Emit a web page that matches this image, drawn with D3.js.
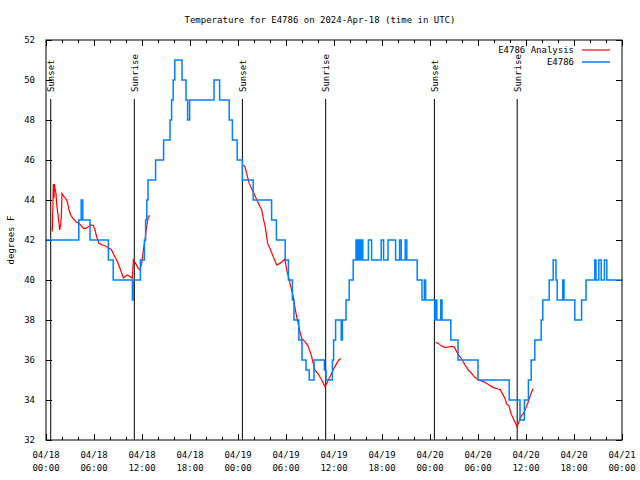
<!DOCTYPE html>
<html><head><meta charset="utf-8">
<script src="https://cdn.jsdelivr.net/npm/d3@7"></script>
<style>
body{margin:0;background:#fff}
text{font-family:"DejaVu Sans Mono",monospace;font-size:9px;fill:#000}
</style>
</head><body>
<svg id="chart" width="640" height="480"></svg>
<script>
// ---- data ----
const startUTC = Date.UTC(2024, 3, 18, 0, 0);
const titleText = "Temperature for E4786 on 2024-Apr-18 (time in UTC)";
const yLabel = "degrees F";
const seriesNames = ["E4786 Analysis", "E4786"];
const xMajorHours = [0, 6, 12, 18, 24, 30, 36, 42, 48, 54, 60, 66, 72];
const xMinorHours = d3.range(0, 73, 2);
const yTicks = [32, 34, 36, 38, 40, 42, 44, 46, 48, 50, 52];
const sunLabels = ["Sunset", "Sunrise", "Sunset", "Sunrise", "Sunset", "Sunrise"];
const sunHours = [0.59, 11.04, 24.55, 34.96, 48.55, 58.9];

// station observations (step values, hours since 04/18 00:00 UTC)
const stationHours = [0,4.1,4.4,4.6,5.5,7.8,8.4,10.8,10.9,11.8,12.3,12.45,12.6,12.75,13.7,14.7,15.5,15.7,15.9,16.1,17.0,17.5,17.7,17.95,21.0,21.7,22.9,23.3,23.9,24.55,25.9,28.2,28.8,29.9,30.3,30.8,31.0,31.6,32.0,32.5,32.9,33.5,34.8,35.0,35.8,35.95,36.2,36.9,37.05,37.5,37.9,38.4,38.75,38.92,39.08,39.25,39.4,39.6,40.3,40.7,41.9,42.2,42.75,43.7,44.2,44.4,44.9,45.1,46.4,47.0,47.3,47.45,48.6,48.75,48.85,49.35,49.5,50.6,51.5,54.0,57.9,59.25,59.8,60.3,60.65,61.1,61.9,62.1,62.9,63.4,63.75,63.9,64.6,64.75,66.1,66.95,67.5,68.6,68.75,69.1,69.4,69.8,70.1,72];
const stationTemps = [42,43,44,43,42,41,40,39,40,41,42,43,44,45,46,47,48,49,50,51,50,49,48,49,50,49,48,47,46,45,44,43,42,41,40,39,38,37,36,35.5,35,36,35.5,35,36,37,38,37,38,39,40,41,42,41,42,41,42,41,42,41,42,41,42,41,42,41,42,41,40,39,40,39,38,39,38,39,38,37,36,35,34,33,34,35,36,37,38,39,40,41,40,39,40,39,38,39,40,41,40,41,40,41,40,40];

// analysis (null = gap)
const analysisHours = [0.79,0.92,1.0,1.06,1.125,1.25,1.33,1.42,1.54,1.625,1.71,1.83,1.92,2.0,2.25,2.46,2.67,2.875,3.08,3.375,3.71,4.125,4.33,4.67,4.96,5.375,5.58,5.92,6.125,6.33,6.625,7.04,7.46,7.875,8.17,8.5,8.92,9.33,9.67,9.875,10.17,10.5,10.79,10.92,11.2,11.54,11.75,11.96,12.17,12.375,12.58,12.79,13.0,
  null,
  24.58,24.875,25.08,25.4,25.7,26.0,26.33,26.75,26.96,27.2,27.4,27.7,28.0,28.4,28.83,29.25,29.875,30.08,30.3,30.5,30.9,31.1,31.33,31.75,31.96,32.375,32.8,33.2,33.6,34.04,34.46,34.875,35.3,35.7,36.1,36.6,36.875,
  null,
  48.75,49.04,49.375,49.875,50.3,50.7,51.04,51.33,51.625,51.96,52.375,52.8,53.2,53.625,54.125,54.67,55.3,55.9,56.5,56.75,57.04,57.375,57.58,57.875,58.125,58.4,58.7,58.875,59.125,59.375,59.67,59.96,60.3,60.625,60.9];
const analysisTemps = [42.42,44.8,44.1,44.8,44.58,44.33,43.83,43.5,43.17,42.83,42.5,42.75,43.17,44.33,44.17,44.08,43.92,43.5,43.25,43.08,42.92,42.83,42.75,42.58,42.58,42.67,42.75,42.72,42.5,42.17,41.83,41.75,41.7,41.58,41.53,41.25,40.92,40.5,40.1,40.17,40.25,40.17,40.08,41.0,40.83,40.58,40.5,40.83,41.5,42.0,42.67,43.17,43.22,
  null,
  45.75,45.67,45.33,44.83,44.58,44.33,44.03,43.67,43.53,43.0,42.67,41.83,41.58,41.17,40.75,40.83,41.05,40.5,40.17,39.83,39.17,38.67,38.17,37.42,37.08,36.92,36.67,36.17,35.5,35.3,35.0,34.67,35.0,35.33,35.67,36.0,36.08,
  null,
  36.88,36.83,36.72,36.62,36.65,36.68,36.65,36.42,36.22,36.05,35.75,35.5,35.33,35.12,35.0,34.92,34.78,34.62,34.55,34.53,34.33,34.08,33.8,33.7,33.33,33.08,32.83,32.67,32.92,33.17,33.33,33.58,33.92,34.33,34.58];

const colors = ["#ff0000", "#0080ff"];

// ---- drawing ----
const toDate = h => new Date(startUTC + h * 3600e3);
const L = 46, R = 622, T = 40, B = 440;
const svg = d3.select("#chart");
const x = d3.scaleUtc().domain([toDate(0), toDate(72)]).range([L, R]);
const y = d3.scaleLinear().domain([32, 52]).range([B, T]);

svg.append("rect").attr("width", 640).attr("height", 480).attr("fill", "#fff");

// title
svg.append("text").attr("x", 320).attr("y", 23).attr("text-anchor", "middle").text(titleText);
// y label
svg.append("text").attr("transform", "translate(14,240) rotate(-90)").attr("text-anchor", "middle").text(yLabel);

// y axis (left with labels, right mirrored)
const yLeft = d3.axisLeft(y).tickValues(yTicks).tickSize(-6).tickPadding(11).tickFormat(d3.format("d"));
const gy = svg.append("g").attr("transform", `translate(${L},0)`).call(yLeft);
const gyR = svg.append("g").attr("transform", `translate(${R},0)`).call(d3.axisRight(y).tickValues(yTicks).tickSize(-6).tickFormat(""));

// x axis
const majorDates = xMajorHours.map(toDate);
const minorDates = xMinorHours.filter(h => h % 6 !== 0).map(toDate);
const gx = svg.append("g").attr("transform", `translate(0,${B})`)
  .call(d3.axisBottom(x).tickValues(majorDates).tickSize(-6).tickFormat(""));
svg.append("g").attr("transform", `translate(0,${B})`)
  .call(d3.axisBottom(x).tickValues(minorDates).tickSize(-3).tickFormat(""));
svg.append("g").attr("transform", `translate(0,${T})`)
  .call(d3.axisTop(x).tickValues(majorDates).tickSize(-6).tickFormat(""));
svg.append("g").attr("transform", `translate(0,${T})`)
  .call(d3.axisTop(x).tickValues(minorDates).tickSize(-3).tickFormat(""));
svg.selectAll(".domain").remove();
svg.selectAll(".tick line").attr("stroke", "#000");
svg.selectAll(".tick text").style("font-family", "DejaVu Sans Mono, monospace").style("font-size", "9px").attr("fill", "#000");
gy.selectAll(".tick text").attr("dy", "0.32em");

// x labels (two lines)
const fmtD = d3.utcFormat("%m/%d"), fmtT = d3.utcFormat("%H:%M");
const xl = svg.append("g").selectAll("text").data(majorDates).join("text")
  .attr("text-anchor", "middle").attr("x", d => x(d));
xl.append("tspan").attr("x", d => x(d)).attr("y", 458).text(d => fmtD(d));
xl.append("tspan").attr("x", d => x(d)).attr("y", 471).text(d => fmtT(d));

// sun event lines
const sun = svg.append("g");
sunHours.forEach((h, i) => {
  const sx = x(toDate(h));
  sun.append("line").attr("x1", sx).attr("x2", sx).attr("y1", 99).attr("y2", B)
    .attr("stroke", "#000").attr("stroke-width", 1);
  sun.append("text").attr("transform", `translate(${sx + 3.5},92) rotate(-90)`)
    .attr("text-anchor", "start").text(sunLabels[i]);
});

// analysis line
const aData = analysisHours.map((h, i) => h === null ? null : [toDate(h), analysisTemps[i]]);
const aLine = d3.line().defined(d => d !== null).x(d => x(d[0])).y(d => y(d[1]));
svg.append("path").attr("d", aLine(aData)).attr("fill", "none")
  .attr("stroke", colors[0]).attr("stroke-width", 1.2);

// station line (stepped)
const sData = stationHours.map((h, i) => [toDate(h), stationTemps[i]]);
const sLine = d3.line().curve(d3.curveStepAfter).x(d => x(d[0])).y(d => y(d[1]));
svg.append("path").attr("d", sLine(sData)).attr("fill", "none")
  .attr("stroke", colors[1]).attr("stroke-width", 1.5);

// frame
svg.append("rect").attr("x", L).attr("y", T).attr("width", R - L).attr("height", B - T)
  .attr("fill", "none").attr("stroke", "#000").attr("stroke-width", 1);

// legend
const lg = svg.append("g");
seriesNames.forEach((n, i) => {
  const ly = 50 + i * 12;
  lg.append("text").attr("x", 574).attr("y", ly + 3).attr("text-anchor", "end").text(n);
  lg.append("line").attr("x1", 582).attr("x2", 610).attr("y1", ly).attr("y2", ly)
    .attr("stroke", colors[i]).attr("stroke-width", i === 1 ? 1.5 : 1.2);
});
</script>
</body></html>
